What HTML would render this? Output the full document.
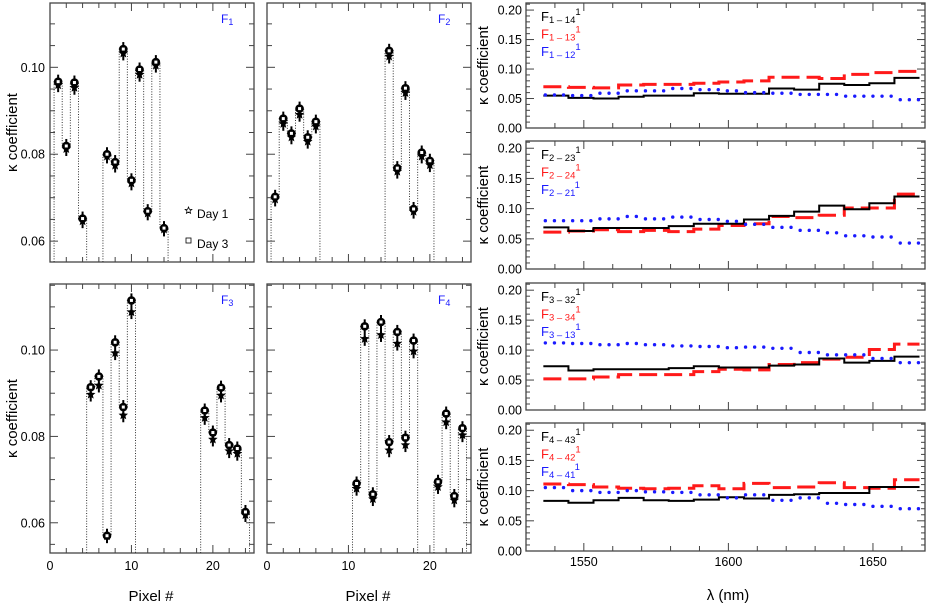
<!DOCTYPE html>
<html><head><meta charset="utf-8"><style>
body{margin:0;background:#fff;}
svg{display:block;font-family:"Liberation Sans",sans-serif;}
</style></head><body>
<svg id="c" width="933" height="605" viewBox="0 0 933 605"></svg>
<script>
// ---- left panels data: pixel index, day1 (star), day3 (square) ----
const f1Pixels=[1,2,3,4,7,8,9,10,11,12,13,14];
const f1Day3=[0.0967,0.0819,0.0965,0.0652,0.0800,0.0782,0.1042,0.0740,0.0995,0.0669,0.1012,0.0630];
const f1Day1=[0.0959,0.0812,0.0953,0.0646,0.0795,0.0774,0.1032,0.0733,0.0983,0.0664,0.1004,0.0627];
const f2Pixels=[1,2,3,4,5,6,15,16,17,18,19,20];
const f2Day3=[0.0702,0.0882,0.0848,0.0905,0.0839,0.0875,0.1038,0.0768,0.0952,0.0674,0.0804,0.0785];
const f2Day1=[0.0696,0.0870,0.0839,0.0891,0.0829,0.0864,0.1025,0.0760,0.0941,0.0668,0.0795,0.0775];
const f3Pixels=[5,6,7,8,9,10,19,20,21,22,23,24];
const f3Day3=[0.0914,0.0939,0.0570,0.1018,0.0868,0.1115,0.0860,0.0809,0.0913,0.0780,0.0772,0.0625];
const f3Day1=[0.0897,0.0918,0.0569,0.0993,0.0849,0.1088,0.0843,0.0793,0.0895,0.0766,0.0760,0.0618];
const f4Pixels=[11,12,13,14,15,16,17,18,21,22,23,24];
const f4Day3=[0.0691,0.1055,0.0666,0.1065,0.0787,0.1042,0.0797,0.1022,0.0695,0.0853,0.0662,0.0819];
const f4Day1=[0.0679,0.1026,0.0655,0.1035,0.0768,0.1015,0.0780,0.0997,0.0683,0.0833,0.0652,0.0803];
const leftTickLabels=["0.06","0.08","0.10"];
const pixelTickLabels=["0","10","20"];
// ---- right panels data: 15 wavelength bins from 1536 to 1666 nm ----
const binStart=1536, binEnd=1666.1;
const r1Black=[0.055,0.051,0.050,0.053,0.055,0.055,0.059,0.058,0.058,0.067,0.065,0.075,0.073,0.076,0.085];
const r1Red=[0.070,0.069,0.068,0.073,0.074,0.074,0.076,0.078,0.080,0.086,0.086,0.084,0.091,0.094,0.096];
const r1Blue=[0.056,0.055,0.059,0.063,0.063,0.067,0.065,0.063,0.060,0.059,0.057,0.057,0.054,0.054,0.048];
const r2Black=[0.069,0.063,0.068,0.068,0.068,0.071,0.075,0.075,0.082,0.088,0.095,0.105,0.099,0.109,0.120];
const r2Red=[0.061,0.063,0.065,0.062,0.064,0.062,0.066,0.072,0.075,0.087,0.085,0.089,0.101,0.101,0.124];
const r2Blue=[0.080,0.080,0.083,0.087,0.083,0.086,0.082,0.079,0.074,0.069,0.064,0.060,0.055,0.053,0.043];
const r3Black=[0.073,0.066,0.068,0.068,0.068,0.070,0.073,0.071,0.071,0.074,0.076,0.086,0.079,0.082,0.089];
const r3Red=[0.052,0.052,0.055,0.059,0.059,0.059,0.064,0.068,0.067,0.076,0.079,0.085,0.088,0.101,0.110];
const r3Blue=[0.112,0.111,0.109,0.111,0.109,0.107,0.106,0.104,0.105,0.103,0.096,0.092,0.092,0.086,0.079];
const r4Black=[0.083,0.080,0.084,0.088,0.084,0.083,0.085,0.089,0.087,0.093,0.094,0.096,0.096,0.106,0.106];
const r4Red=[0.111,0.110,0.106,0.104,0.103,0.104,0.108,0.103,0.112,0.105,0.106,0.113,0.105,0.104,0.118];
const r4Blue=[0.105,0.100,0.097,0.100,0.098,0.097,0.093,0.088,0.093,0.084,0.088,0.079,0.077,0.074,0.070];
const rightTickLabels=["0.00","0.05","0.10","0.15","0.20"];
const lambdaTickLabels=["1550","1600","1650"];

const NS="http://www.w3.org/2000/svg";
const svg=document.getElementById('c');
function mk(tag,attrs,parent){const e=document.createElementNS(NS,tag);for(const k in attrs)e.setAttribute(k,attrs[k]);(parent||svg).appendChild(e);return e;}

// ---------- left panels ----------
const leftPanels=[
 {name:'f1',x0:50,x1:254,y0:3,y1:262,ymin:0.0552,ymax:0.1148,px:f1Pixels,d3:f1Day3,d1:f1Day1,lab:'1',labels:true,xl:false},
 {name:'f2',x0:267,x1:471,y0:3,y1:262,ymin:0.0552,ymax:0.1148,px:f2Pixels,d3:f2Day3,d1:f2Day1,lab:'2',labels:false,xl:false},
 {name:'f3',x0:50,x1:254,y0:284,y1:553,ymin:0.053,ymax:0.1153,px:f3Pixels,d3:f3Day3,d1:f3Day1,lab:'3',labels:true,xl:true},
 {name:'f4',x0:267,x1:471,y0:284,y1:553,ymin:0.053,ymax:0.1153,px:f4Pixels,d3:f4Day3,d1:f4Day1,lab:'4',labels:false,xl:true}
];
function starPath(cx,cy,r){let d='';for(let i=0;i<10;i++){const a=-Math.PI/2+i*Math.PI/5;const rr=i%2?r*0.45:r;d+=(i?'L':'M')+(cx+rr*Math.cos(a)).toFixed(2)+' '+(cy+rr*Math.sin(a)).toFixed(2);}return d+'Z';}
leftPanels.forEach(p=>{
  const g=mk('g',{});
  
  
  const X=v=>p.x0+(v-0)/(25.05)*(p.x1-p.x0);
  const Y=v=>p.y1-(v-p.ymin)/(p.ymax-p.ymin)*(p.y1-p.y0);
  // ticks
  for(let v=0.055;v<=p.ymax+1e-9;v+=0.005){
    if(v<p.ymin)continue;
    const y=Y(v),maj=Math.abs((v*100)%2)<1e-6||Math.abs((v*100)%2-2)<1e-6;
    const len=maj?8:5;
    mk('line',{x1:p.x0,x2:p.x0+len,y1:y,y2:y,stroke:'#444','stroke-width':1},g);
    mk('line',{x1:p.x1,x2:p.x1-len,y1:y,y2:y,stroke:'#444','stroke-width':1},g);
  }
  for(let v=0;v<=24;v+=2){
    const x=X(v),len=(v%10===0)?8:5;
    mk('line',{x1:x,x2:x,y1:p.y1,y2:p.y1-len,stroke:'#444','stroke-width':1},g);
    mk('line',{x1:x,x2:x,y1:p.y0,y2:p.y0+len,stroke:'#444','stroke-width':1},g);
  }
  mk('rect',{x:p.x0,y:p.y0,width:p.x1-p.x0,height:p.y1-p.y0,fill:'none',stroke:'#444','stroke-width':1.3},g);
  if(p.labels){
    leftTickLabels.forEach(t=>{const v=parseFloat(t);const tx=mk('text',{x:p.x0-5,y:Y(v)+4.5,'text-anchor':'end','font-size':12.5,fill:'#000'},g);tx.textContent=t;
      });
    const yt=mk('text',{x:0,y:0,'text-anchor':'middle','font-size':15,transform:`translate(17,${(p.y0+p.y1)/2}) rotate(-90)`},g);
    yt.textContent='κ coefficient';
    
    
  }
  if(p.xl){
    pixelTickLabels.forEach(t=>{const tx=mk('text',{x:X(+t),y:p.y1+17,'text-anchor':'middle','font-size':12.5},g);tx.textContent=t;
      });
    const xt=mk('text',{x:(p.x0+p.x1)/2-1,y:605-4,'text-anchor':'middle','font-size':15},g);
    xt.textContent='Pixel #';
    
    
  }
  // panel label
  const lb=mk('text',{x:p.x1-33,y:p.y0+20,'font-size':12,fill:'#1a1aff'},g);
  lb.innerHTML='F<tspan font-size="9" dy="2">'+p.lab+'</tspan>';
  
  
  // step dotted line by contiguous groups
  let groups=[],cur=[];
  p.px.forEach((px,i)=>{if(cur.length&&px!==p.px[cur[cur.length-1]]+1){groups.push(cur);cur=[];}cur.push(i);});
  if(cur.length)groups.push(cur);
  groups.forEach(gr=>{
    let d=`M${X(p.px[gr[0]]-0.5)} ${p.y1}`;
    gr.forEach(i=>{const y=Y(p.d3[i]);d+=`L${X(p.px[i]-0.5)} ${y}L${X(p.px[i]+0.5)} ${y}`;});
    d+=`L${X(p.px[gr[gr.length-1]]+0.5)} ${p.y1}`;
    const sl=mk('path',{d:d,fill:'none',stroke:'#333','stroke-width':1,'stroke-dasharray':'1,1.6'},g);
    
    
  });
  p.px.forEach((px,i)=>{
    const x=X(px),y3=Y(p.d3[i]),y1=Y(p.d1[i]);
    const eb=mk('line',{x1:x,x2:x,y1:Math.min(y3,y1)-7,y2:Math.max(y3,y1)+7,stroke:'#000','stroke-width':2},g);
    
    
    const st=mk('path',{d:starPath(x,y1,5),fill:'#000'},g);
    
    
    const c=mk('circle',{cx:x,cy:y3,r:4.3,fill:'#000'},g);
    
    
    mk('rect',{x:x-1.5,y:y3-1.5,width:3,height:3,fill:'#fff'},g);
  });
});
// Day legend in F1
{
  const lg=mk('g',{});
  
  
  mk('path',{d:starPath(188.5,210.5,3.5),fill:'none',stroke:'#000','stroke-width':0.8},lg);
  const t1=mk('text',{x:197,y:218,'font-size':12},lg);t1.textContent='Day 1';
  
  mk('rect',{x:186,y:238,width:5,height:5,fill:'none',stroke:'#000','stroke-width':0.8},lg);
  const t3=mk('text',{x:197,y:248,'font-size':12},lg);t3.textContent='Day 3';
  
}

// ---------- right panels ----------
const rightPanels=[
 {name:'f1',y0:3,y1:128,bk:r1Black,rd:r1Red,bl:r1Blue,L:[['1','14'],['1','13'],['1','12']]},
 {name:'f2',y0:141,y1:269,bk:r2Black,rd:r2Red,bl:r2Blue,L:[['2','23'],['2','24'],['2','21']]},
 {name:'f3',y0:283,y1:410,bk:r3Black,rd:r3Red,bl:r3Blue,L:[['3','32'],['3','34'],['3','13']]},
 {name:'f4',y0:423,y1:551,bk:r4Black,rd:r4Red,bl:r4Blue,L:[['4','43'],['4','42'],['4','41']]}
];
const RX0=526,RX1=925,LMIN=1530,LMAX=1668;
const XR=v=>RX0+(v-LMIN)/(LMAX-LMIN)*(RX1-RX0);
const nb=r1Black.length, bw=(binEnd-binStart)/nb;
rightPanels.forEach((p,pi)=>{
  const g=mk('g',{});
  
  
  const Y=v=>p.y1-v/0.212*(p.y1-p.y0);
  for(let k=0;k<=21;k++){const v=k*0.01,y=Y(v),len=(k%5===0)?8:4;
    mk('line',{x1:RX0,x2:RX0+len,y1:y,y2:y,stroke:'#444','stroke-width':1},g);
    mk('line',{x1:RX1,x2:RX1-len,y1:y,y2:y,stroke:'#444','stroke-width':1},g);}
  for(let v=1540;v<=1660;v+=10){const x=XR(v),len=(v%50===0)?8:5;
    mk('line',{x1:x,x2:x,y1:p.y1,y2:p.y1-len,stroke:'#444','stroke-width':1},g);
    mk('line',{x1:x,x2:x,y1:p.y0,y2:p.y0+len,stroke:'#444','stroke-width':1},g);}
  mk('rect',{x:RX0,y:p.y0,width:RX1-RX0,height:p.y1-p.y0,fill:'none',stroke:'#444','stroke-width':1.3},g);
  rightTickLabels.forEach(t=>{const tx=mk('text',{x:RX0-4,y:Y(+t)+4.5,'text-anchor':'end','font-size':12.5},g);tx.textContent=t;
    });
  const yt=mk('text',{x:0,y:0,'text-anchor':'middle','font-size':15,transform:`translate(488,${(p.y0+p.y1)/2}) rotate(-90)`},g);
  yt.textContent='κ coefficient';
  
  
  function stepPath(vals){let d='';vals.forEach((v,i)=>{const xa=XR(binStart+i*bw),xb=XR(binStart+(i+1)*bw),y=Y(v);d+=(i?'L':'M')+xa+' '+y+'L'+xb+' '+y;});return d;}
  const rl=mk('path',{d:stepPath(p.rd),fill:'none',stroke:'#ff1a1a','stroke-width':3,'stroke-dasharray':'18,7'},g);
  
  
  const bk=mk('path',{d:stepPath(p.bk),fill:'none',stroke:'#000','stroke-width':2},g);
  
  
  const bg=mk('g',{fill:'#1a1aff'},g);
  
  
  const xs=XR(binStart),xe=XR(binEnd);
  for(let x=xs+2;x<xe;x+=9.1){let i=Math.min(nb-1,Math.floor((x-xs)/(xe-xs)*nb));
    mk('circle',{cx:x,cy:Y(p.bl[i]),r:1.7},bg);}
  const cols=['#000','#ff1a1a','#1a1aff'];
  p.L.forEach((l,k)=>{const tx=mk('text',{x:541,y:p.y0+18+k*17.5,'font-size':13,fill:cols[k]},g);
    tx.innerHTML='F<tspan font-size="9.5" dy="2">'+l[0]+' – '+l[1]+'</tspan><tspan font-size="9.5" dy="-8">1</tspan>';
    });
  if(pi===3){
    lambdaTickLabels.forEach(t=>{const tx=mk('text',{x:XR(+t),y:p.y1+15,'text-anchor':'middle','font-size':12.5},g);tx.textContent=t;
      });
    const xt=mk('text',{x:728,y:600,'text-anchor':'middle','font-size':15},g);
    xt.textContent='λ (nm)';
    
    
  }
});
</script>
</body></html>
